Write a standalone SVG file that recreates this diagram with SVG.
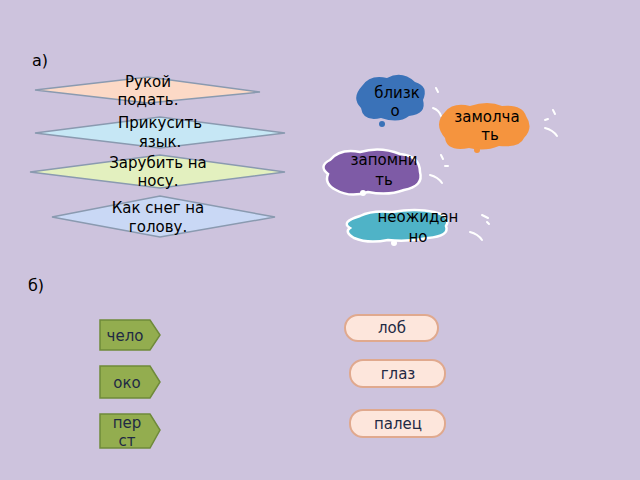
<svg xmlns="http://www.w3.org/2000/svg" width="640" height="480" viewBox="0 0 640 480">
<style>
text{font-family:"DejaVu Sans","Noto Sans",sans-serif;font-size:15px;fill:#000;text-anchor:middle}
.dm{stroke:#8a9ab0;stroke-width:1.5}
.pen{fill:#93ad4f;stroke:#6f8a3a;stroke-width:1.5}
.pt{fill:#1f2a44}
.pill{fill:#fde6dc;stroke:#e0a98e;stroke-width:2}
.cl{stroke:#fff;stroke-width:2.5}
.mk{fill:none;stroke:#fff;stroke-width:2;stroke-linecap:round}
</style>
<rect width="640" height="480" fill="#cdc3dd"/>
<text x="40" y="66" style="font-size:16px">а)</text>
<text x="36" y="291" style="font-size:16px">б)</text>
<g id="d1"><polygon class="dm" points="35,90 148,77 260,92 148,103" fill="#fcd9c6" stroke="#e8a888"/><text x="148" y="87">Рукой</text><text x="148" y="105">подать.</text></g>
<g id="d2"><polygon class="dm" points="35,133 160,117 285,133 160,148" fill="#c6e7f5"/><text x="160" y="128">Прикусить</text><text x="160" y="147">язык.</text></g>
<g id="d3"><polygon class="dm" points="30,172 160,155 285,172 160,188" fill="#e3f0bf"/><text x="158" y="168">Зарубить на</text><text x="158" y="186">носу.</text></g>
<g id="d4"><polygon class="dm" points="52,217 160,196 275,217 160,237" fill="#c9d8f5"/><text x="158" y="213">Как  снег на</text><text x="158" y="232">голову.</text></g>
<g id="c1"><path d="M362,86 q8,-12 25,-8 q15,-8 28,4 q14,4 8,18 q4,14 -14,16 q-10,8 -28,2 q-18,4 -20,-10 q-10,-10 1,-22z" fill="#3a72b8"/><circle cx="382" cy="124" r="3" fill="#3a72b8"/><text x="397" y="98">близк</text><text x="395" y="116">о</text><path class="mk" d="M436,88 l2,4 M433,108 q6,2 8,8"/></g>
<g id="c2"><path d="M445,112 q8,-10 25,-6 q18,-6 32,0 q20,-2 24,10 q8,12 -2,22 q-4,10 -25,8 q-14,6 -30,2 q-22,4 -24,-10 q-12,-14 0,-26z" fill="#f5943e"/><circle cx="477" cy="150" r="3" fill="#f5943e"/><text x="487" y="122">замолча</text><text x="490" y="140">ть</text><path class="mk" d="M553,110 l2,4 M545,120 l3,-1 M545,128 q8,2 12,8"/></g>
<g id="c3"><path d="M330,160 q10,-12 30,-8 q20,-6 40,2 q20,2 20,18 q4,14 -16,18 q-16,6 -36,2 q-18,6 -32,-2 q-12,-6 -8,-16 q-10,-8 2,-14z" fill="#7e5ba6" class="cl"/><circle cx="363" cy="193" r="3" fill="#fff"/><text x="384" y="165">запомни</text><text x="384" y="185">ть</text><path class="mk" d="M441,155 l2,4 M445,166 l3,0 M430,175 q8,2 12,8"/></g>
<g id="c4"><path d="M360,216 q12,-6 32,-4 q24,-4 42,0 q18,4 12,14 q4,10 -18,12 q-20,4 -40,2 q-20,4 -34,-2 q-10,-6 -4,-10 q-10,-6 10,-12z" fill="#4fb3c7" class="cl"/><circle cx="394" cy="243" r="3" fill="#fff"/><text x="418" y="222">неожидан</text><text x="418" y="242">но</text><path class="mk" d="M482,215 l6,3 M487,222 l2,2 M470,232 q8,2 12,8"/></g>
<g id="p1"><polygon class="pen" points="100,320 150,320 160,335 150,350 100,350"/><text class="pt" x="125" y="341">чело</text></g>
<g id="p2"><polygon class="pen" points="100,366 150,366 160,382 150,398 100,398"/><text class="pt" x="127" y="388">око</text></g>
<g id="p3"><polygon class="pen" points="100,414 150,414 160,430 150,448 100,448"/><text class="pt" x="127" y="428">пер</text><text class="pt" x="127" y="446">ст</text></g>
<g id="r1"><rect class="pill" x="345" y="315" width="93" height="26" rx="13"/><text class="pt" x="392" y="333">лоб</text></g>
<g id="r2"><rect class="pill" x="350" y="360" width="95" height="27" rx="13"/><text class="pt" x="398" y="379">глаз</text></g>
<g id="r3"><rect class="pill" x="350" y="410" width="95" height="27" rx="13"/><text class="pt" x="398" y="429">палец</text></g>
<g id="connectors"></g>
</svg>
